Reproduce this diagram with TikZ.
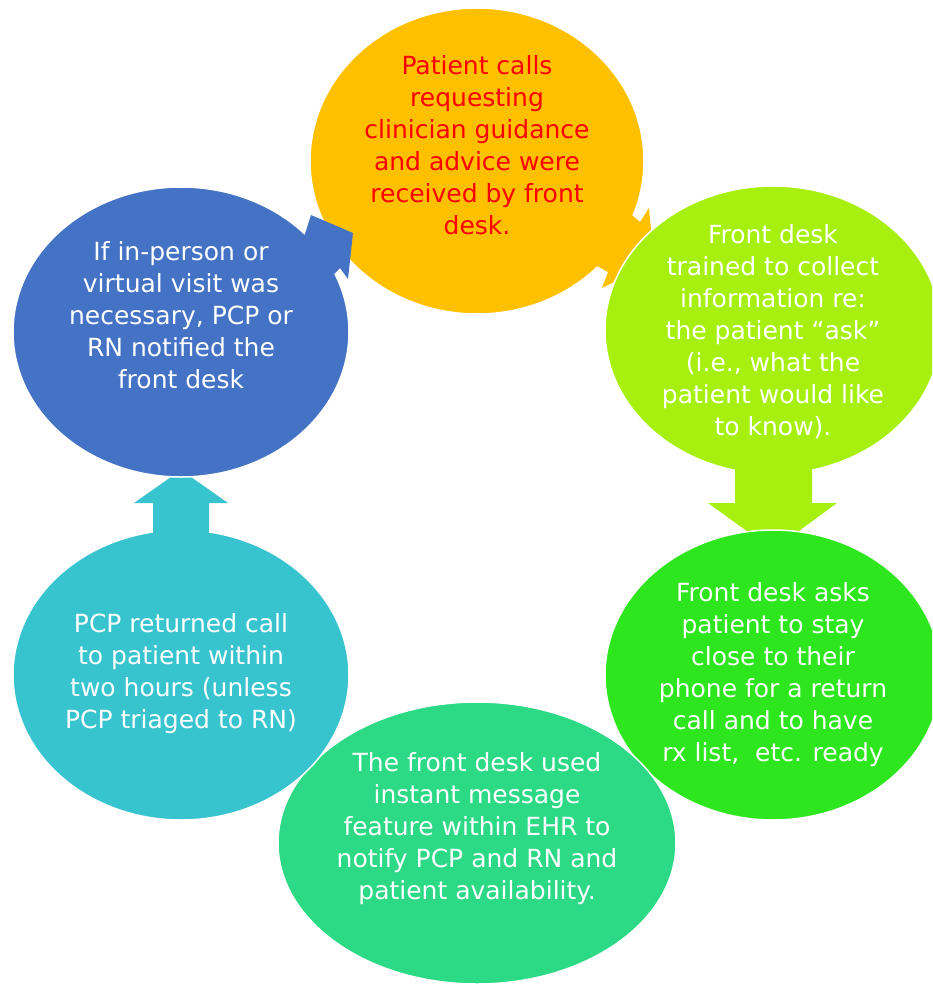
\documentclass[tikz,border=0pt]{standalone}
\usepackage{fontspec}
\setmainfont{DejaVu Sans}
\usetikzlibrary{shapes.geometric}
\definecolor{corange}{RGB}{255,192,0}
\definecolor{cyg}{RGB}{166,239,15}
\definecolor{cgreen}{RGB}{45,230,30}
\definecolor{cmint}{RGB}{44,217,132}
\definecolor{cteal}{RGB}{56,196,207}
\definecolor{cblue}{RGB}{68,114,196}
\definecolor{cred}{RGB}{255,0,0}
\begin{document}
\begin{tikzpicture}[x=1pt,y=-1pt,
  circ/.style={ellipse,draw=white,line width=1.5pt,inner sep=0pt},
  lbl/.style={align=center,font=\fontsize{25}{32}\selectfont,text=white,inner sep=0pt}]
\clip (0,0) rectangle (932,985);
\fill[white] (0,0) rectangle (932,985);
% top circle and its arrow
\node[circ,fill=corange,minimum width=334pt,minimum height=306pt] (top) at (477,161) {};
\fill[corange] (615,205) -- (633,216) -- (640,222) -- (649,208) -- (654,262) -- (602,288) -- (608,272) -- (597,266) -- (585,240) -- cycle;
% right-top circle and arrow
\node[circ,fill=cyg,minimum width=336pt,minimum height=288pt] (rt) at (773,330) {};
\fill[cyg] (735,455) -- (735,503) -- (708,503) -- (773,550) -- (837,503) -- (812,503) -- (812,455) -- cycle;
% right-bottom
\node[circ,fill=cgreen,minimum width=336pt,minimum height=290pt] (rb) at (773,675) {};
% bottom
\node[circ,fill=cmint,minimum width=398pt,minimum height=282pt] (bot) at (477,843) {};
% left-bottom and arrow
\node[circ,fill=cteal,minimum width=336pt,minimum height=290pt] (lb) at (181,675) {};
\fill[cteal] (153,565) -- (153,503) -- (134,503) -- (181,470) -- (228,503) -- (209,503) -- (209,565) -- cycle;
% left-top and arrow
\node[circ,fill=cblue,minimum width=336pt,minimum height=290pt] (lt) at (181,332) {};
\fill[cblue] (288,252) -- (305,234) -- (311,215) -- (353,233) -- (348,279) -- (340,268) -- (334,274) -- (318,290) -- cycle;
% texts
\node[lbl,text=cred] (t1) at (477,145) {Patient calls\\requesting\\clinician guidance\\and advice were\\received by front\\desk.};
\node[lbl] (t2) at (773,332) {Front desk\\trained to collect\\information re:\\the patient “ask”\\(i.e., what the\\patient would like\\to know).};
\node[lbl] (t3) at (773,675) {Front desk asks\\patient to stay\\close to their\\phone for a return\\call and to have\\rx list,~ etc. ready};
\node[lbl] (t4) at (477,829) {The front desk used\\instant message\\feature within EHR to\\notify PCP and RN and\\patient availability.};
\node[lbl] (t5) at (181,674) {PCP returned call\\to patient within\\two hours (unless\\PCP triaged to RN)};
\node[lbl] (t6) at (181,315) {If in-person or\\virtual visit was\\necessary, PCP or\\RN notified the\\front desk};
\end{tikzpicture}
\end{document}
